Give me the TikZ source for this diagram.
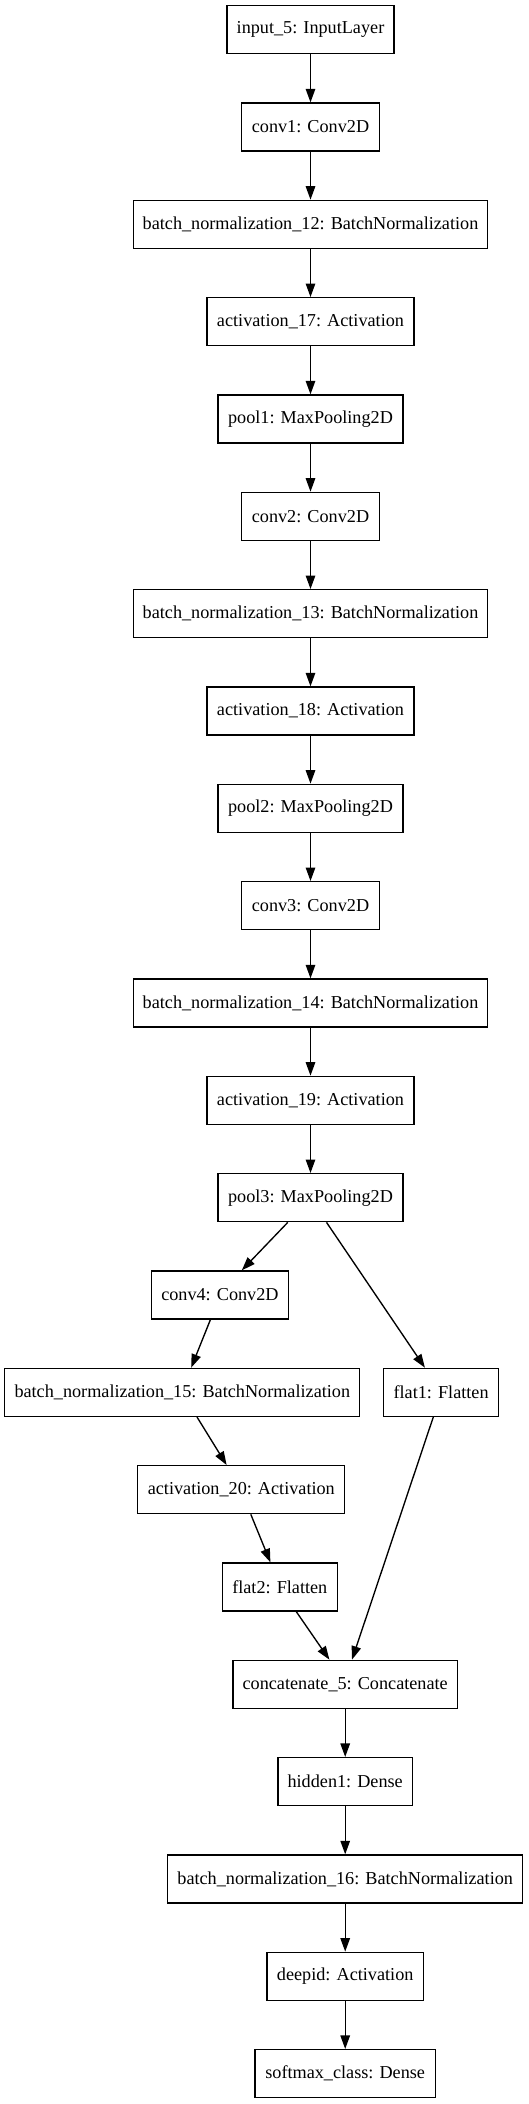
\documentclass[tikz,border=0pt]{standalone}
\usepackage{fontspec}
\setmainfont{Liberation Serif}
\usetikzlibrary{arrows.meta}
\begin{document}
\begin{tikzpicture}[x=1pt,y=-1pt,
  layer/.style={draw=black, line width=1.35pt, minimum height=48pt, inner sep=0pt,
    font=\fontsize{18.2}{22}\selectfont, anchor=center},
  link/.style={line width=1.35pt, -{Triangle[length=13.5pt,width=9.5pt]}}]
\useasboundingbox (0,0) rectangle (528,2104);
% main column
\node[layer, minimum width=167pt]   (input)  at (310.5,29.7)    {input\_5: InputLayer};
\node[layer, minimum width=137.4pt] (conv1)  at (310.5,127.03)  {conv1: Conv2D};
\node[layer, minimum width=354.5pt] (bn12)   at (310.5,224.36)  {batch\_normalization\_12: BatchNormalization};
\node[layer, minimum width=206.7pt] (act17)  at (310.5,321.69)  {activation\_17: Activation};
\node[layer, minimum width=185.3pt] (pool1)  at (310.5,419.02)  {pool1: MaxPooling2D};
\node[layer, minimum width=137.4pt] (conv2)  at (310.5,516.35)  {conv2: Conv2D};
\node[layer, minimum width=354.5pt] (bn13)   at (310.5,613.68)  {batch\_normalization\_13: BatchNormalization};
\node[layer, minimum width=206.7pt] (act18)  at (310.5,711.01)  {activation\_18: Activation};
\node[layer, minimum width=185.3pt] (pool2)  at (310.5,808.34)  {pool2: MaxPooling2D};
\node[layer, minimum width=137.4pt] (conv3)  at (310.5,905.67)  {conv3: Conv2D};
\node[layer, minimum width=354.5pt] (bn14)   at (310.5,1003.0)  {batch\_normalization\_14: BatchNormalization};
\node[layer, minimum width=206.7pt] (act19)  at (310.5,1100.33) {activation\_19: Activation};
\node[layer, minimum width=185.3pt] (pool3)  at (310.5,1197.66) {pool3: MaxPooling2D};
% branches
\node[layer, minimum width=137.4pt] (conv4)  at (219.9,1294.99) {conv4: Conv2D};
\node[layer, minimum width=355pt]   (bn15)   at (182.3,1392.32) {batch\_normalization\_15: BatchNormalization};
\node[layer, minimum width=115.2pt] (flat1)  at (441.1,1392.32) {flat1: Flatten};
\node[layer, minimum width=207pt]   (act20)  at (241.3,1489.65) {activation\_20: Activation};
\node[layer, minimum width=115.2pt] (flat2)  at (279.8,1586.98) {flat2: Flatten};
% bottom column
\node[layer, minimum width=224.2pt] (concat) at (345.2,1684.31) {concatenate\_5: Concatenate};
\node[layer, minimum width=134.7pt] (hidden1) at (345.2,1781.64) {hidden1: Dense};
\node[layer, minimum width=355pt]   (bn16)   at (345.2,1878.97) {batch\_normalization\_16: BatchNormalization};
\node[layer, minimum width=156.3pt] (deepid) at (345.2,1976.3)  {deepid: Activation};
\node[layer, minimum width=180.3pt] (softmax) at (345.2,2073.63) {softmax\_class: Dense};
% connectors
\draw[link] (input) -- (conv1);
\draw[link] (conv1) -- (bn12);
\draw[link] (bn12) -- (act17);
\draw[link] (act17) -- (pool1);
\draw[link] (pool1) -- (conv2);
\draw[link] (conv2) -- (bn13);
\draw[link] (bn13) -- (act18);
\draw[link] (act18) -- (pool2);
\draw[link] (pool2) -- (conv3);
\draw[link] (conv3) -- (bn14);
\draw[link] (bn14) -- (act19);
\draw[link] (act19) -- (pool3);
\draw[link] ([xshift=-22.7pt]pool3.south) -- ([xshift=21.9pt]conv4.north);
\draw[link] ([xshift=16pt]pool3.south) -- ([xshift=-16.2pt]flat1.north);
\draw[link] ([xshift=-9.5pt]conv4.south) -- ([xshift=8.9pt]bn15.north);
\draw[link] ([xshift=14.7pt]bn15.south) -- ([xshift=-14.7pt]act20.north);
\draw[link] ([xshift=9.5pt]act20.south) -- ([xshift=-9.4pt]flat2.north);
\draw[link] ([xshift=16.5pt]flat2.south) -- ([xshift=-15.8pt]concat.north);
\draw[link] ([xshift=-7.8pt]flat1.south) -- ([xshift=6.8pt]concat.north);
\draw[link] (concat) -- (hidden1);
\draw[link] (hidden1) -- (bn16);
\draw[link] (bn16) -- (deepid);
\draw[link] (deepid) -- (softmax);
\end{tikzpicture}
\end{document}
